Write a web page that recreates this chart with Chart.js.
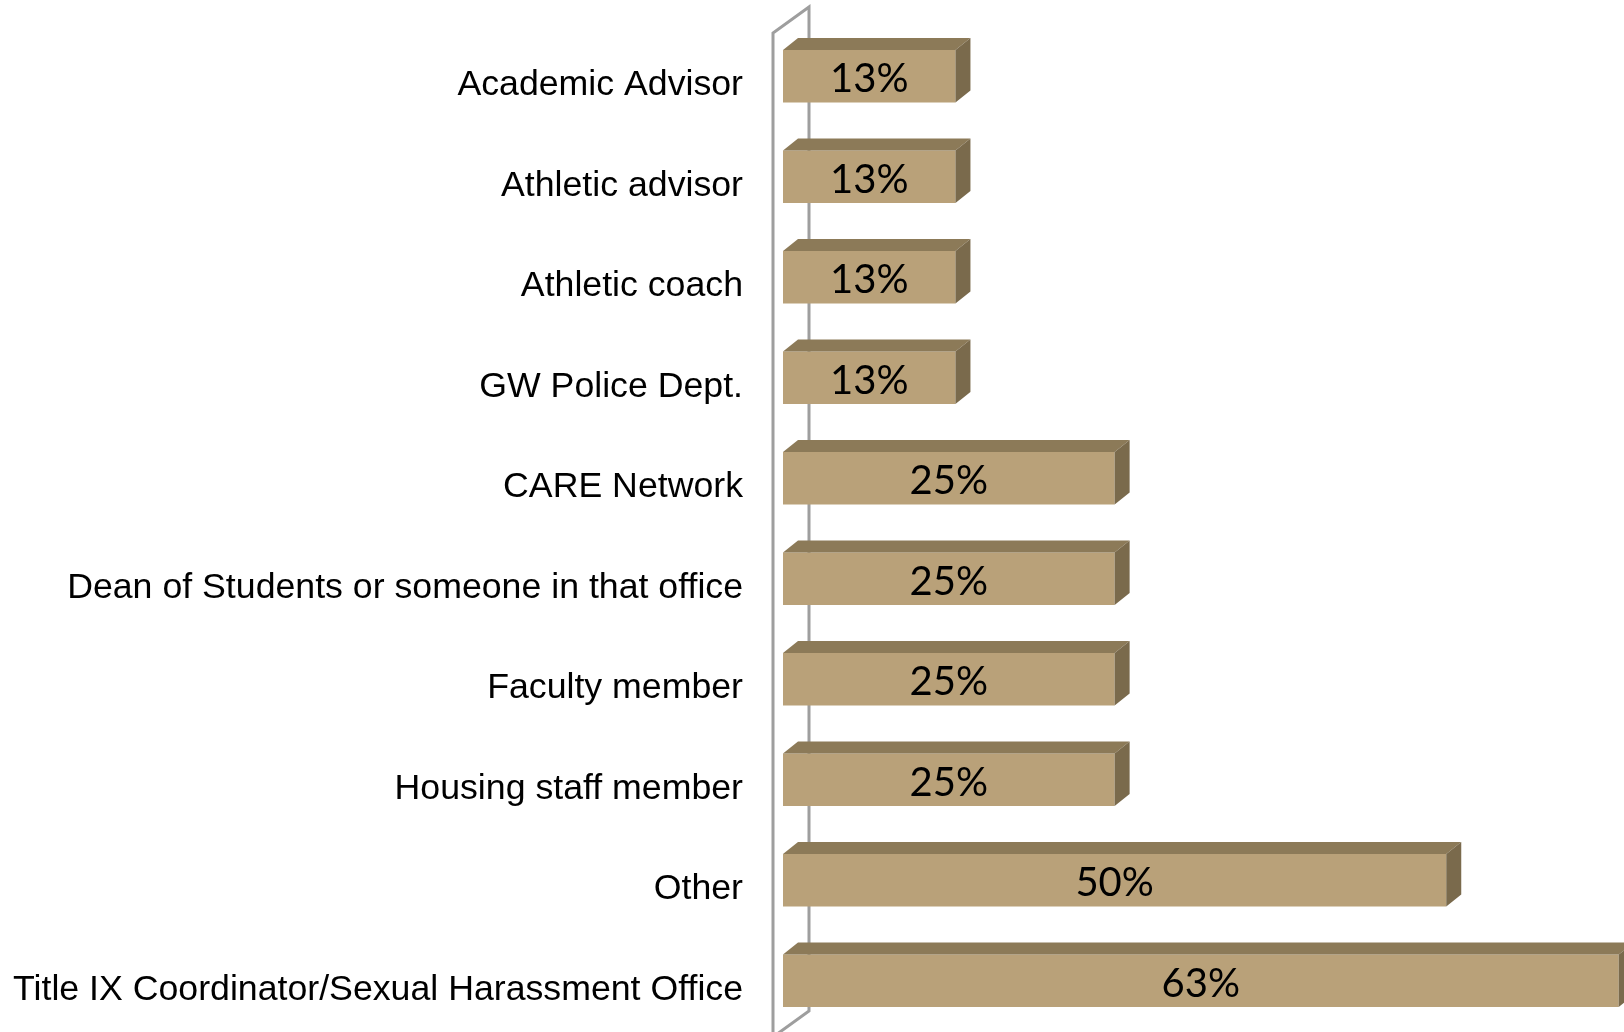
<!DOCTYPE html>
<html>
<head>
<meta charset="utf-8">
<script src="https://cdn.jsdelivr.net/npm/chart.js@4"></script>
<style>
  html, body { margin: 0; padding: 0; background: #fff; }
  #wrap { width: 1624px; height: 1032px; }
</style>
</head>
<body>
<div id="wrap"><canvas id="offices-chart"></canvas></div>
<script>
// categories and values (percent)
const categories = [
    'Academic Advisor',
    'Athletic advisor',
    'Athletic coach',
    'GW Police Dept.',
    'CARE Network',
    'Dean of Students or someone in that office',
    'Faculty member',
    'Housing staff member',
    'Other',
    'Title IX Coordinator/Sexual Harassment Office'
];
const percentValues = [13, 13, 13, 13, 25, 25, 25, 25, 50, 63];
const valueLabels = ['13%', '13%', '13%', '13%', '25%', '25%', '25%', '25%', '50%', '63%'];

const frontColor = '#b9a179';
const topColor = '#8c7a58';
const sideColor = '#7a6a4c';
const wallColor = '#9e9e9e';

// depth of the fake 3d
const barDX = 15, barDY = 12;
const wallDX = 36, wallDY = 26;

// walls behind the bars
const wallPlugin = {
    id: 'walls',
    beforeDatasetsDraw(chart) {
        const ctx = chart.ctx;
        const area = chart.chartArea;
        const x0 = chart.scales.x.getPixelForValue(0) - 10;
        const top = area.top + 7;
        const bottom = area.bottom + 6;
        ctx.save();
        ctx.strokeStyle = wallColor;
        ctx.lineWidth = 3;
        ctx.beginPath();
        ctx.moveTo(x0, bottom);
        ctx.lineTo(x0, top);
        ctx.lineTo(x0 + wallDX, top - wallDY);
        ctx.lineTo(x0 + wallDX, bottom - wallDY);
        ctx.lineTo(x0, bottom);
        ctx.stroke();
        ctx.restore();
    }
};

// top + side faces and the value labels
const boxPlugin = {
    id: 'boxes',
    afterDatasetsDraw(chart) {
        const ctx = chart.ctx;
        const meta = chart.getDatasetMeta(0);
        ctx.save();
        meta.data.forEach((bar, i) => {
            const left = bar.base, right = bar.x;
            const t = bar.y - bar.height / 2, b = bar.y + bar.height / 2;
            ctx.fillStyle = topColor;
            ctx.beginPath();
            ctx.moveTo(left, t);
            ctx.lineTo(left + barDX, t - barDY);
            ctx.lineTo(right + barDX, t - barDY);
            ctx.lineTo(right, t);
            ctx.closePath();
            ctx.fill();
            ctx.fillStyle = sideColor;
            ctx.beginPath();
            ctx.moveTo(right, t);
            ctx.lineTo(right + barDX, t - barDY);
            ctx.lineTo(right + barDX, b - barDY);
            ctx.lineTo(right, b);
            ctx.closePath();
            ctx.fill();

            ctx.fillStyle = '#000';
            ctx.font = '40px Lato';
            ctx.textAlign = 'center';
            ctx.textBaseline = 'middle';
            ctx.fillText(valueLabels[i], (left + right) / 2, bar.y + 3);
        });
        ctx.restore();
    }
};

const ctx1 = document.getElementById('offices-chart').getContext('2d');

new Chart(ctx1, {
    type: 'bar',
    data: {
        labels: categories,
        datasets: [{
            data: percentValues,
            backgroundColor: frontColor,
            borderWidth: 0,
            barPercentage: 0.52,
            categoryPercentage: 1
        }]
    },
    options: {
        indexAxis: 'y',
        responsive: true,
        maintainAspectRatio: false,
        animation: false,
        layout: { padding: { top: 26, bottom: 1, left: 0, right: 0 } },
        plugins: {
            legend: { display: false },
            tooltip: { enabled: false }
        },
        scales: {
            x: {
                display: false,
                min: 0,
                max: 63.4
            },
            y: {
                grid: { display: false, drawTicks: false },
                border: { display: false },
                ticks: {
                    color: '#000',
                    padding: 40,
                    labelOffset: 9,
                    font: { family: 'Liberation Sans', size: 35.7 }
                },
                afterFit(scale) {
                    scale.width = 783;
                    scale.paddingTop = 0;
                    scale.paddingBottom = 0;
                }
            }
        }
    },
    plugins: [wallPlugin, boxPlugin]
});
</script>
</body>
</html>
